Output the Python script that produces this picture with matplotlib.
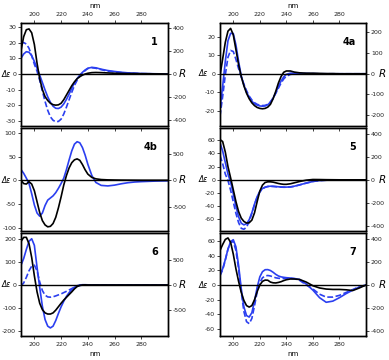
import matplotlib
matplotlib.use('Agg')
import matplotlib.pyplot as plt
import numpy as np

plt.rcParams['axes.unicode_minus'] = False
plt.rcParams['font.family'] = ['DejaVu Sans']

# wavelength grid (nm)
wl = [190, 192, 194, 196, 198, 200, 202, 204, 206, 208, 210, 212, 214, 216, 218,
      220, 222, 224, 226, 228, 230, 232, 234, 236, 238, 240, 243, 246, 250, 255,
      260, 265, 270, 275, 280, 285, 290, 295, 300]

# panel 1
p1_exp = [15, 24, 28.5, 29, 26.5, 19, 7, -3, -10, -14.5, -17, -18.8, -19.7, -20, -19.8,
          -18.8, -16.5, -13.5, -10.5, -7.5, -5, -3, -1.7, -0.7, 0, 0.5, 0.9, 1, 0.9, 0.7,
          0.5, 0.4, 0.3, 0.3, 0.2, 0.2, 0.1, 0.1, 0]
p1_calc = [137, 175, 195, 190, 160, 110, 50, -10, -75, -140, -200, -248, -282, -300, -302,
           -290, -262, -222, -175, -125, -78, -40, -10, 15, 35, 50, 58, 54, 42, 30,
           22, 15, 10, 7, 4, 3, 2, 1, 0]
p1_calc2 = [265, 275, 262, 225, 160, 85, 25, -55, -150, -240, -318, -375, -405, -418, -415,
            -395, -350, -290, -225, -160, -100, -55, -20, 5, 30, 48, 55, 50, 38, 25,
            18, 12, 8, 5, 3, 2, 1, 0, 0]

# panel 4a
p4a_exp = [-1, 8, 17, 23, 24.5, 21, 13, 5, -1.5, -6.5, -10.5, -13.5, -15.7, -17.2, -18.2,
           -18.7, -18.9, -18.7, -18, -16.5, -13.5, -9.5, -5, -1.5, 0.8, 1.5, 1.5, 0.9, 0.5, 0.3,
           0.3, 0.2, 0.1, 0.1, 0, 0, 0, 0, 0]
p4a_calc = [-172, -60, 60, 160, 196, 195, 140, 60, -10, -55, -90, -115, -133, -145, -152,
            -156, -157, -156, -150, -138, -118, -92, -62, -35, -15, -3, 3, 3, 2, 1,
            1, 0, 0, 0, 0, 0, 0, 0, 0]
p4a_calc2 = [-205, -110, -5, 80, 113, 108, 70, 25, -15, -50, -82, -108, -127, -140, -148,
             -152, -154, -153, -148, -136, -118, -95, -70, -45, -25, -12, -3, 0, 1, 1,
             0, 0, 0, 0, 0, 0, 0, 0, 0]

# panel 4b
p4b_exp = [0, -7, -8, -3, -8, -22, -45, -68, -85, -94, -98, -97, -91, -78, -58,
           -35, -10, 10, 26, 37, 43, 45, 42, 33, 22, 13, 6, 3, 1.5, 0.8,
           0.5, 0.3, 0.2, 0.1, 0, 0, 0, 0, 0]
p4b_calc = [200, 130, 40, -60, -250, -460, -610, -670, -610, -470, -370, -330, -290, -230, -150,
            -60, 40, 200, 380, 550, 675, 720, 700, 610, 470, 300, 90, -40, -95, -105,
            -90, -65, -45, -32, -25, -20, -15, -12, -10]

# panel 5
p5_exp = [61, 58, 42, 20, 3, -15, -33, -48, -58, -63, -65.5, -65, -61, -50, -33,
          -17, -8, -4, -3, -3, -3.5, -4.5, -5.5, -6.3, -6.8, -6.8, -6, -4.5, -2.5, -0.5,
          0.5, 0.4, 0.2, 0.1, 0, 0, 0, 0, 0]
p5_calc = [320, 250, 150, 50, -20, -120, -230, -320, -375, -390, -380, -345, -285, -210, -145,
           -100, -75, -63, -57, -55, -56, -58, -60, -62, -63, -63, -61, -55, -43, -28,
           -14, -6, -3, -1, 0, 0, 0, 0, 0]
p5_calc2 = [210, 140, 50, -5, -90, -190, -290, -370, -420, -428, -410, -360, -290, -215, -150,
            -105, -78, -65, -58, -56, -57, -59, -61, -63, -64, -64, -62, -56, -44, -28,
            -14, -6, -3, -1, 0, 0, 0, 0, 0]

# panel 6
p6_exp = [190, 208, 208, 180, 120, 40, -30, -80, -108, -122, -127, -127, -122, -110, -95,
          -80, -66, -54, -42, -30, -17, -7, -2, 0, 0.5, 0, 0, 0, 0, 0,
          0, 0, 0, 0, 0, 0, 0, 0, 0]
p6_calc = [390, 520, 700, 860, 910, 780, 350, -50, -420, -680, -810, -845, -810, -700, -560,
           -430, -320, -225, -150, -90, -45, -15, 0, 5, 5, 3, 0, 0, 0, 0,
           0, 0, 0, 0, 0, 0, 0, 0, 0]
p6_calc2 = [-20, 40, 150, 280, 370, 390, 280, 60, -110, -200, -235, -240, -232, -215, -195,
            -175, -150, -125, -98, -70, -45, -25, -10, -2, 0, 0, 0, 0, 0, 0,
            0, 0, 0, 0, 0, 0, 0, 0, 0]

# panel 7
p7_exp = [47, 55, 62, 64, 58, 42, 22, 5, -10, -21, -28, -30, -28, -20, -9,
          0, 5, 6.7, 6.5, 4, 3, 2.8, 3.5, 4.5, 6, 7.2, 8.2, 8.2, 7.5, 4,
          -1, -4, -5.5, -6, -6, -6.5, -7.5, -4, 0]
p7_calc = [90, 140, 220, 310, 375, 392, 330, 170, -30, -190, -265, -278, -240, -140, -20,
           70, 115, 132, 133, 125, 110, 92, 78, 70, 66, 63, 60, 56, 48, 8,
           -45, -110, -150, -140, -110, -75, -45, -18, 0]
p7_calc2 = [80, 130, 215, 310, 370, 375, 300, 140, -60, -230, -318, -335, -290, -180, -60,
            20, 62, 78, 82, 78, 70, 62, 58, 56, 56, 57, 57, 54, 40, 0,
            -35, -80, -105, -105, -90, -65, -40, -15, 0]

labels = ['1', '4a', '4b', '5', '6', '7']
exp_series = [p1_exp, p4a_exp, p4b_exp, p5_exp, p6_exp, p7_exp]
calc_series = [p1_calc, p4a_calc, p4b_calc, p5_calc, p6_calc, p7_calc]
calc2_series = [p1_calc2, p4a_calc2, None, p5_calc2, p6_calc2, p7_calc2]
ylim_l = [(-33.4, 32.8), (-28.2, 27.4), (-106.8, 110), (-77.5, 78.5), (-223, 227), (-69.3, 70.7)]
ylim_r = [(-455, 446), (-253, 246), (-946, 976), (-443, 449), (-1004, 1023), (-442, 450)]
ticks_l = [np.arange(-30, 31, 10), np.arange(-20, 21, 10), np.arange(-100, 101, 50),
           np.arange(-60, 61, 20), np.arange(-200, 201, 100), np.arange(-60, 61, 20)]
ticks_r = [np.arange(-400, 401, 200), np.arange(-200, 201, 100), [-500, 0, 500],
           np.arange(-400, 401, 200), [-500, 0, 500], np.arange(-400, 401, 200)]

W, H = 389, 360
fig = plt.figure(figsize=(W / 100, H / 100), dpi=100)
blue = '#2b3ff0'
cols = [(21, 147), (220, 146)]
rows = [(23, 126), (128, 231), (233, 336)]

for i in range(6):
    r, c = i // 2, i % 2
    x0, w = cols[c]
    y0, y1 = rows[r]
    ax = fig.add_axes([x0 / W, 1 - y1 / H, w / W, (y1 - y0) / H])
    ax2 = ax.twinx()
    ax.set_zorder(ax2.get_zorder() + 1)
    ax.patch.set_visible(False)

    ax.axhline(0, color='black', lw=1.0, zorder=1)
    ax.plot(wl, exp_series[i], color='black', lw=1.2, zorder=3)
    ax2.plot(wl, calc_series[i], color=blue, lw=1.2)
    if calc2_series[i] is not None:
        ax2.plot(wl, calc2_series[i], color=blue, lw=1.2, ls=(0, (3.5, 1.5)))

    ax.set_xlim(190, 300)
    ax.set_ylim(*ylim_l[i])
    ax2.set_ylim(*ylim_r[i])
    ax.set_yticks(ticks_l[i])
    ax2.set_yticks(ticks_r[i])
    ax.set_xticks([200, 220, 240, 260, 280])

    for a in (ax, ax2):
        for s in a.spines.values():
            s.set_linewidth(1.0)
        a.tick_params(axis='y', labelsize=4.5, length=2, width=0.6, pad=1.5, colors='#222222')
    ax.tick_params(axis='x', labelsize=4.5, length=2.5, width=0.6, pad=1.5, colors='#222222')
    if r == 0:
        ax.tick_params(axis='x', top=True, bottom=False, labeltop=True, labelbottom=False)
        ax.xaxis.set_label_position('top')
        ax.set_xlabel('nm', fontsize=5, labelpad=3)
    elif r == 2:
        ax.tick_params(axis='x', top=False, bottom=True, labeltop=False, labelbottom=True)
        ax.set_xlabel('nm', fontsize=5, labelpad=3)
    else:
        ax.tick_params(axis='x', top=True, bottom=False, labeltop=False, labelbottom=False,
                       direction='in')

    lo, hi = ylim_l[i]
    zf = -lo / (hi - lo)
    ax.text(-0.10 if c == 0 else -0.113, zf, '\u0394\u03b5', transform=ax.transAxes,
            ha='center', va='center', fontsize=5.5, style='italic')
    ax.text(1.10 if c == 0 else 1.115, zf, 'R', transform=ax.transAxes,
            ha='center', va='center', fontsize=7.5, style='italic')
    ax.text(0.93, 0.82, labels[i], transform=ax.transAxes, ha='right', va='center',
            fontsize=7, fontweight='bold')

fig.savefig('out.png', dpi=100)
